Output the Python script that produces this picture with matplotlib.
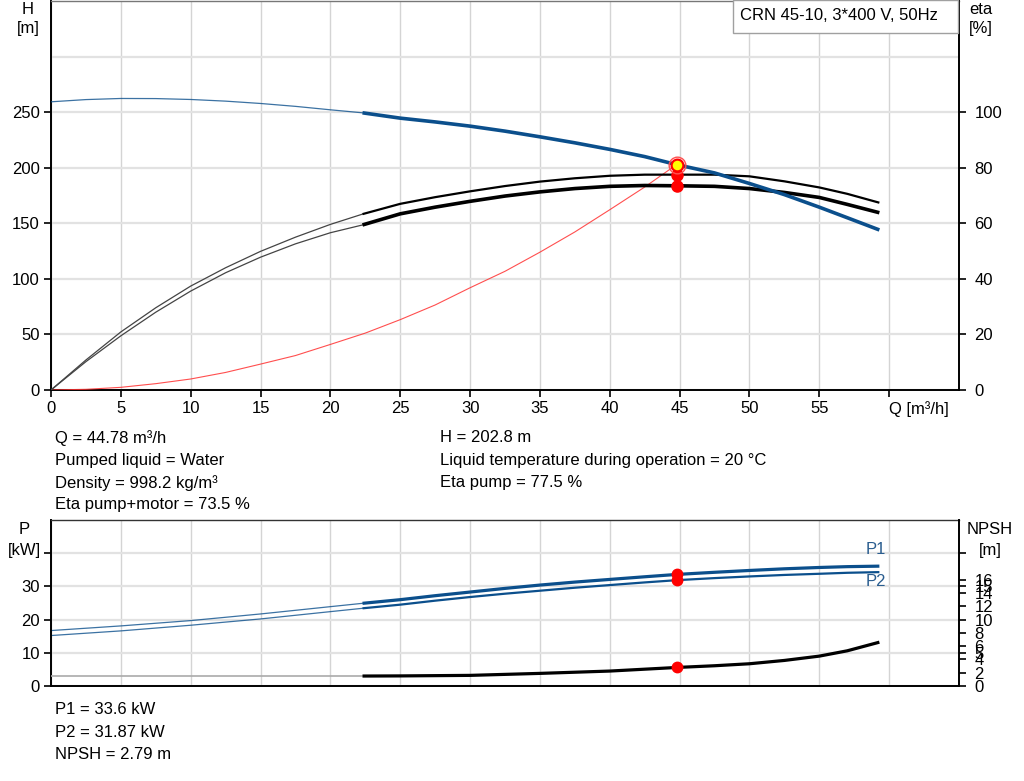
import numpy as np
import matplotlib
matplotlib.use("Agg")
import matplotlib.pyplot as plt
from matplotlib.patches import Rectangle

plt.rcParams['font.family'] = ['Liberation Sans', 'DejaVu Sans']
FS = 12

# ---------------- data ----------------
q_split = 22.3
q_duty = 44.78

q_h = [0, 2.5, 5, 7.5, 10, 12.5, 15, 17.5, 20, 22.3, 25, 27.5, 30, 32.5, 35, 37.5, 40, 42.5, 44.78,
       47.5, 50, 52.5, 55, 57, 59.3]
h_vals = [259.3, 261.3, 262.3, 262.2, 261.4, 259.9, 257.8, 255.2, 252.1, 249.4, 244.6, 241.2, 237.4,
          232.9, 227.8, 222.4, 216.5, 210.0, 202.8, 195.3, 185.8, 175.8, 164.5, 155.0, 144.0]

q_eta = [0, 2.5, 5, 7.5, 10, 12.5, 15, 17.5, 20, 22.3, 25, 27.5, 30, 32.5, 35, 37.5, 40, 42.5, 44.78,
         47.5, 50, 52.5, 55, 57, 59.3]
eta_pump = [0, 10.8, 20.9, 29.6, 37.4, 44.0, 49.9, 55.0, 59.6, 63.3, 67.0, 69.4, 71.5, 73.4, 75.0,
            76.2, 77.1, 77.5, 77.5, 77.5, 76.9, 75.1, 72.9, 70.6, 67.4]
eta_total = [0, 10.2, 19.5, 28.0, 35.6, 42.2, 47.8, 52.6, 56.6, 59.4, 63.4, 65.8, 67.9, 69.8, 71.3,
             72.5, 73.3, 73.6, 73.5, 73.3, 72.5, 71.1, 69.3, 66.8, 63.8]

q_sys = [0, 2.5, 5, 7.5, 10, 12.5, 15, 17.5, 20, 22.5, 25, 27.5, 30, 32.5, 35, 37.5, 40, 42.5, 44.78]
h_sys = [0, 0.6, 2.4, 5.7, 9.9, 15.8, 23.3, 31.0, 41.0, 51.2, 63.3, 76.5, 92.0, 106.8, 124.0, 142.2,
         162.2, 182.6, 202.8]

q_p = [0, 5, 10, 15, 20, 22.3, 25, 27.5, 30, 32.5, 35, 37.5, 40, 42.5, 44.78, 47.5, 50, 52.5, 55, 57, 59.3]
p1_vals = [16.7, 18.1, 19.7, 21.7, 23.9, 24.9, 26.0, 27.2, 28.3, 29.4, 30.4, 31.3, 32.1, 32.9, 33.6,
           34.25, 34.8, 35.3, 35.7, 35.95, 36.1]
p2_vals = [15.2, 16.6, 18.3, 20.2, 22.4, 23.4, 24.5, 25.7, 26.8, 27.8, 28.7, 29.6, 30.4, 31.2, 31.87,
           32.5, 33.0, 33.45, 33.8, 34.1, 34.3]

q_npsh = [0, 10, 22.3, 25, 30, 35, 40, 44.78, 47.5, 50, 52.5, 55, 57, 59.3]
npsh_vals = [1.5, 1.5, 1.5, 1.52, 1.6, 1.9, 2.25, 2.79, 3.05, 3.35, 3.85, 4.5, 5.3, 6.6]

duty_h = 202.8
duty_eta_pump = 77.5
duty_eta_total = 73.5
duty_p1 = 33.6
duty_p2 = 31.87
duty_npsh = 2.79

x_ticks = [0, 5, 10, 15, 20, 25, 30, 35, 40, 45, 50, 55, 60]
x_labels = ['0', '5', '10', '15', '20', '25', '30', '35', '40', '45', '50', '55', 'Q [m³/h]']
h_ticks = [0, 50, 100, 150, 200, 250]
eta_ticks = [0, 20, 40, 60, 80, 100]
p_ticks = [0, 10, 20, 30, 40]
p_labels = ['0', '10', '20', '30', '']
npsh_ticks = [0, 2, 4, 5, 6, 8, 10, 12, 14, 15, 16, 20]
npsh_labels = ['0', '2', '4', '5', '6', '8', '10', '12', '14', '15', '16', '']

info_left = ['Q = 44.78 m³/h', 'Pumped liquid = Water', 'Density = 998.2 kg/m³', 'Eta pump+motor = 73.5 %']
info_right = ['H = 202.8 m', 'Liquid temperature during operation = 20 °C', 'Eta pump = 77.5 %']
info_bottom = ['P1 = 33.6 kW', 'P2 = 31.87 kW', 'NPSH = 2.79 m']
title_text = 'CRN 45-10, 3*400 V, 50Hz'

BLUE = '#0b4f8c'
W, H = 1024, 781

def fx(x):
    return x / W

def fy(y):
    return 1 - y / H

def split(q, v):
    q = np.asarray(q, float); v = np.asarray(v, float)
    a = q <= q_split + 1e-9
    b = q >= q_split - 1e-9
    return (q[a], v[a]), (q[b], v[b])

fig = plt.figure(figsize=(W / 100, H / 100), dpi=100)
fig.patch.set_facecolor('white')

# ---------------- top chart ----------------
L, R = 51, 959
ax1 = fig.add_axes([fx(L), fy(390), fx(R - L), (390 - 1) / H])
ax1.set_xlim(0, 65)
ax1.set_ylim(0, 350)
ax1.set_zorder(1)
ax1r = ax1.twinx()
ax1r.set_ylim(0, 140)
ax1r.set_zorder(2)
axh = fig.add_axes(ax1.get_position(), sharex=ax1, sharey=ax1)
axh.set_zorder(3)
axh.patch.set_visible(False)
axh.axis('off')

for a in (ax1, ax1r):
    for s in a.spines.values():
        s.set_visible(False)
ax1.spines['left'].set_visible(True)
ax1.spines['bottom'].set_visible(True)
ax1.spines['top'].set_visible(True)
ax1.spines['top'].set_color('#777777')
ax1.spines['top'].set_linewidth(1.0)
ax1r.spines['right'].set_visible(True)
for s in (ax1.spines['left'], ax1.spines['bottom'], ax1r.spines['right']):
    s.set_linewidth(1.4)
    s.set_color('black')

ax1.set_xticks(x_ticks, labels=x_labels)
xl = ax1.get_xticklabels()[-1]
xl.set_ha('left')
ax1.set_yticks(h_ticks)
ax1.set_yticks([300], minor=True)
ax1.set_xticks(np.arange(0, 66, 5), minor=True)
ax1.tick_params(axis='both', which='major', length=5, width=1.2, labelsize=FS, pad=3)
ax1.tick_params(axis='both', which='minor', length=0)
ax1r.set_yticks(eta_ticks)
ax1r.tick_params(axis='y', which='major', length=5, width=1.2, labelsize=FS, pad=6)

ax1.grid(True, axis='x', which='both', color='#d4d4d4', lw=1.0)
ax1.grid(True, axis='y', which='both', color='#e2e2e2', lw=1.6)
ax1.set_axisbelow(True)

# system curve
ax1.plot(q_sys, h_sys, color='#ff3030', lw=0.8, alpha=0.85, zorder=3)

# efficiency curves
(t_q, t_v), (k_q, k_v) = split(q_eta, eta_pump)
ax1r.plot(t_q, t_v, color='#444444', lw=0.9)
ax1r.plot(k_q, k_v, color='black', lw=1.6, solid_capstyle='butt')
(t_q, t_v), (k_q, k_v) = split(q_eta, eta_total)
ax1r.plot(t_q, t_v, color='#444444', lw=0.9)
ax1r.plot(k_q, k_v, color='black', lw=2.6, solid_capstyle='butt')
ax1r.plot([q_duty, q_duty], [duty_eta_pump, duty_eta_total], 'o', color='red', ms=8, mec='red', zorder=5)

# head curve
(t_q, t_v), (k_q, k_v) = split(q_h, h_vals)
axh.plot(t_q, t_v, color=BLUE, lw=0.9, alpha=0.8)
axh.plot(k_q, k_v, color=BLUE, lw=2.6, solid_capstyle='butt')
axh.plot([q_duty], [duty_h], 'o', ms=12, mfc='none', mec='#ff5050', mew=1.0, zorder=6)
axh.plot([q_duty], [duty_h], 'o', ms=8.5, mfc='#ffff00', mec='red', mew=1.6, zorder=7)

# axis unit labels
fig.text(fx(28), fy(9), 'H', ha='center', va='center', fontsize=FS)
fig.text(fx(28), fy(29), '[m]', ha='center', va='center', fontsize=FS)
fig.text(fx(981), fy(9), 'eta', ha='center', va='center', fontsize=FS)
fig.text(fx(981), fy(29), '[%]', ha='center', va='center', fontsize=FS)

# model box
fig.patches.append(Rectangle((fx(733), fy(33)), fx(958 - 733), 33 / H, transform=fig.transFigure,
                             facecolor='white', edgecolor='#a0a0a0', lw=1.0, zorder=10))
fig.text(fx(740), fy(15), title_text, ha='left', va='center', fontsize=FS, zorder=11)

# info text
for i, t in enumerate(info_left):
    fig.text(fx(55), fy(438 + i * 22.3), t, ha='left', va='center', fontsize=FS)
for i, t in enumerate(info_right):
    fig.text(fx(440), fy(438 + i * 22.3), t, ha='left', va='center', fontsize=FS)

# ---------------- bottom chart ----------------
ax2 = fig.add_axes([fx(L), fy(686), fx(R - L), (686 - 520) / H])
ax2.set_xlim(0, 65)
ax2.set_ylim(0, 50)
ax2r = ax2.twinx()
ax2r.set_ylim(0, 25)
for a in (ax2, ax2r):
    for s in a.spines.values():
        s.set_visible(False)
ax2.spines['left'].set_visible(True)
ax2.spines['bottom'].set_visible(True)
ax2.spines['top'].set_visible(True)
ax2r.spines['right'].set_visible(True)
for s in (ax2.spines['left'], ax2.spines['bottom'], ax2r.spines['right']):
    s.set_linewidth(1.4)
    s.set_color('black')
ax2.spines['top'].set_linewidth(1.0)
ax2.spines['top'].set_color('#333333')

ax2.set_xticks(np.arange(0, 66, 5))
ax2.tick_params(axis='x', length=0, labelbottom=False)
ax2.set_yticks(p_ticks, labels=p_labels)
ax2.tick_params(axis='y', length=5, width=1.2, labelsize=FS, pad=3)
ax2r.set_yticks(npsh_ticks, labels=npsh_labels)
ax2r.tick_params(axis='y', length=5, width=1.2, labelsize=FS, pad=6)
ax2.grid(True, axis='x', color='#d4d4d4', lw=1.0)
ax2.grid(True, axis='y', color='#e2e2e2', lw=1.6)
ax2.set_axisbelow(True)

(t_q, t_v), (k_q, k_v) = split(q_p, p1_vals)
ax2.plot(t_q, t_v, color=BLUE, lw=0.9, alpha=0.8)
ax2.plot(k_q, k_v, color=BLUE, lw=2.3, solid_capstyle='butt')
(t_q, t_v), (k_q, k_v) = split(q_p, p2_vals)
ax2.plot(t_q, t_v, color=BLUE, lw=0.9, alpha=0.8)
ax2.plot(k_q, k_v, color=BLUE, lw=1.6, solid_capstyle='butt')
ax2.plot([q_duty, q_duty], [duty_p1, duty_p2], 'o', color='red', ms=7.5, zorder=5)

(t_q, t_v), (k_q, k_v) = split(q_npsh, npsh_vals)
ax2r.plot(t_q, t_v, color='#aaaaaa', lw=1.2)
ax2r.plot(k_q, k_v, color='black', lw=2.3, solid_capstyle='butt')
ax2r.plot([q_duty], [duty_npsh], 'o', color='red', ms=7.5, zorder=5)

fig.text(fx(876), fy(549), 'P1', ha='center', va='center', fontsize=FS, color='#2a5d8f')
fig.text(fx(876), fy(582), 'P2', ha='center', va='center', fontsize=FS, color='#2a5d8f')

fig.text(fx(24), fy(529), 'P', ha='center', va='center', fontsize=FS)
fig.text(fx(24), fy(550), '[kW]', ha='center', va='center', fontsize=FS)
fig.text(fx(990), fy(529), 'NPSH', ha='center', va='center', fontsize=FS)
fig.text(fx(990), fy(550), '[m]', ha='center', va='center', fontsize=FS)

for i, t in enumerate(info_bottom):
    fig.text(fx(55), fy(710 + i * 22.3), t, ha='left', va='center', fontsize=FS)

fig.savefig('out.png', dpi=100, facecolor='white')
